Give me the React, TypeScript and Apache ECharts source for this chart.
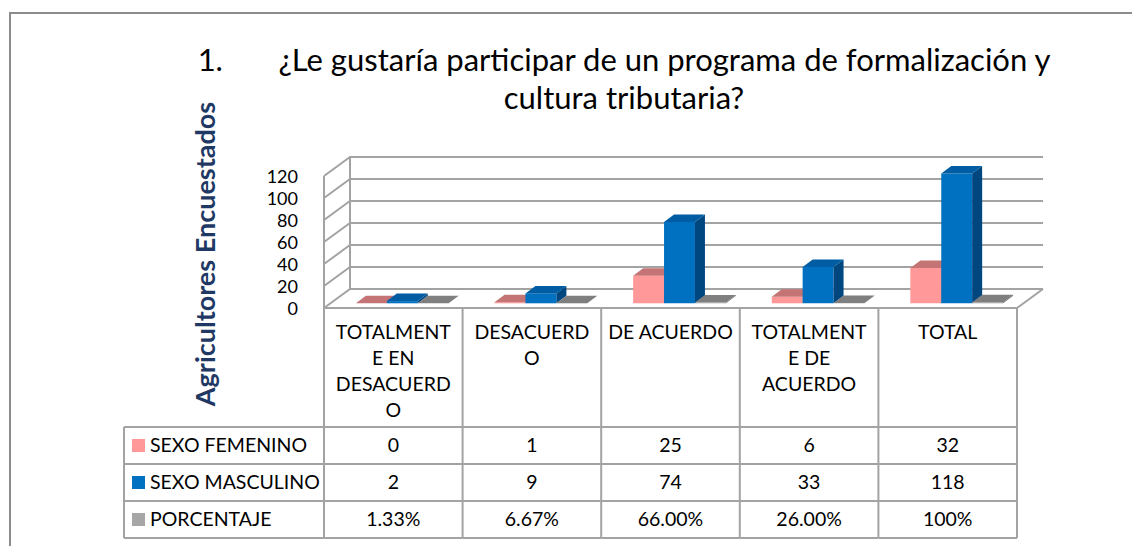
import React, { useEffect, useRef } from "react";
import * as echarts from "echarts";

// ---------- data ----------
const CATEGORIES = [
  "TOTALMENT\nE EN\nDESACUERD\nO",
  "DESACUERD\nO",
  "DE ACUERDO",
  "TOTALMENT\nE DE\nACUERDO",
  "TOTAL",
];
const SERIES_NAMES = ["SEXO FEMENINO", "SEXO MASCULINO", "PORCENTAJE"];
const SEXO_FEMENINO = [0, 1, 25, 6, 32];
const SEXO_MASCULINO = [2, 9, 74, 33, 118];
const PORCENTAJE = [0.0133, 0.0667, 0.66, 0.26, 1];
const PORCENTAJE_LABELS = ["1.33%", "6.67%", "66.00%", "26.00%", "100%"];
const Y_TICKS = [0, 20, 40, 60, 80, 100, 120];
const TITLE = "1.       ¿Le gustaría participar de un programa de formalización y\ncultura tributaria?";
const Y_TITLE = "Agricultores Encuestados";

// ---------- styles / layout ----------
const FONT = "Lato, 'Open Sans', sans-serif";
const GRID = { left: 324, top: 176, width: 693, height: 132 };
const DEPTH = { dx: 26, dy: -19 };
const BAR = { widthRatio: 0.223, dx0: 9, dy0: -4.7, dx: 10, dy: -7.5 };
const LINE = "#A3A3A3";
const TABLE = { headerBottom: 427, rowH: 37, legendLeft: 124, fontSize: 19.5 };
const COLORS = [
  { front: "#FF9999", top: "#C47474", side: "#B86A6A", legend: "#FF9999" },
  { front: "#0070C0", top: "#005DA3", side: "#00467F", legend: "#0070C0" },
  { front: "#A6A6A6", top: "#7F7F7F", side: "#666666", legend: "#A6A6A6" },
];

function barSeries(name: string, values: number[], sIdx: number) {
  const col = COLORS[sIdx];
  return {
    type: "custom",
    name,
    silent: true,
    data: values.map((v, i) => [i, v]),
    renderItem: (_p: any, api: any) => {
      const i = api.value(0);
      const v = api.value(1);
      const c = api.coord([i, 0]);
      const ct = api.coord([i, v]);
      const band = api.size([1, 0])[0];
      const w = band * BAR.widthRatio;
      const x0 = c[0] - 1.5 * w + sIdx * w + BAR.dx0;
      const yb = c[1] + BAR.dy0;
      const h = c[1] - ct[1];
      const yt = yb - h;
      const { dx, dy } = BAR;
      return {
        type: "group",
        children: [
          { type: "rect", shape: { x: x0, y: yt, width: w, height: Math.max(h, 0.01) }, style: { fill: col.front } },
          {
            type: "polygon",
            shape: { points: [[x0 + w, yb], [x0 + w + dx, yb + dy], [x0 + w + dx, yt + dy], [x0 + w, yt]] },
            style: { fill: col.side },
          },
          {
            type: "polygon",
            shape: { points: [[x0, yt], [x0 + w, yt], [x0 + w + dx, yt + dy], [x0 + dx, yt + dy]] },
            style: { fill: col.top },
          },
        ],
      };
    },
  };
}

const lineStyle = { stroke: LINE, lineWidth: 2, fill: "none" };

const wallSeries = {
  type: "custom",
  silent: true,
  z: 1,
  data: Y_TICKS.map((v) => [0, v]),
  renderItem: (_p: any, api: any) => {
    const v = api.value(1);
    const band = api.size([1, 0])[0];
    const c0 = api.coord([0, v]);
    const cN = api.coord([CATEGORIES.length - 1, v]);
    const xl = c0[0] - band / 2;
    const xr = cN[0] + band / 2;
    const y = c0[1];
    const { dx, dy } = DEPTH;
    const children: any[] = [
      { type: "polyline", shape: { points: [[xl, y], [xl + dx, y + dy], [xr + dx, y + dy]] }, style: lineStyle },
    ];
    if (v === 0) {
      const yTop = api.coord([0, Y_TICKS[Y_TICKS.length - 1]])[1];
      children.push(
        { type: "polyline", shape: { points: [[xl, y], [xr, y], [xr + dx, y + dy]] }, style: lineStyle },
        { type: "line", shape: { x1: xl, y1: y, x2: xl, y2: yTop }, style: lineStyle },
        { type: "line", shape: { x1: xl + dx, y1: y + dy, x2: xl + dx, y2: yTop + dy }, style: lineStyle }
      );
    }
    return { type: "group", children };
  },
};

const rowValues = [
  SEXO_FEMENINO.map(String),
  SEXO_MASCULINO.map(String),
  PORCENTAJE_LABELS,
];

const tableSeries = {
  type: "custom",
  silent: true,
  z: 3,
  data: CATEGORIES.map((_, i) => [i, 0]),
  renderItem: (_p: any, api: any) => {
    const i = api.value(0);
    const band = api.size([1, 0])[0];
    const c = api.coord([i, 0]);
    const left = c[0] - band / 2;
    const right = c[0] + band / 2;
    const top = c[1];
    const { headerBottom, rowH, legendLeft, fontSize } = TABLE;
    const bottom = headerBottom + rowH * 3;
    const txt = (text: string, x: number, y: number, align = "center", vAlign = "middle") => ({
      type: "text",
      style: {
        text, x, y, align, verticalAlign: vAlign, textAlign: align, textVerticalAlign: vAlign,
        fill: "#000", fontSize, fontFamily: FONT, lineHeight: 26,
      },
    });
    const children: any[] = [
      { type: "line", shape: { x1: right, y1: top, x2: right, y2: bottom }, style: lineStyle },
      txt(CATEGORIES[i], c[0], top + 10, "center", "top"),
    ];
    for (let r = 0; r <= 3; r++) {
      const y = headerBottom + r * rowH;
      children.push({ type: "line", shape: { x1: left, y1: y, x2: right, y2: y }, style: lineStyle });
    }
    for (let r = 0; r < 3; r++) {
      children.push(txt(rowValues[r][i], c[0], headerBottom + r * rowH + rowH / 2 - 1));
    }
    if (i === 0) {
      children.push(
        { type: "line", shape: { x1: left, y1: top, x2: left, y2: bottom }, style: lineStyle },
        { type: "line", shape: { x1: legendLeft, y1: headerBottom, x2: legendLeft, y2: bottom }, style: lineStyle }
      );
      for (let r = 0; r <= 3; r++) {
        const y = headerBottom + r * rowH;
        children.push({ type: "line", shape: { x1: legendLeft, y1: y, x2: left, y2: y }, style: lineStyle });
      }
      for (let r = 0; r < 3; r++) {
        const cy = headerBottom + r * rowH + rowH / 2;
        children.push(
          { type: "rect", shape: { x: legendLeft + 8, y: cy - 6.5, width: 13, height: 13 }, style: { fill: COLORS[r].legend } },
          txt(SERIES_NAMES[r], legendLeft + 26, cy - 1, "left", "middle")
        );
      }
    }
    return { type: "group", children };
  },
};

const option: any = {
  animation: false,
  backgroundColor: "#fff",
  title: {
    text: TITLE,
    left: 619,
    top: 35,
    textAlign: "center",
    textStyle: { fontSize: 31, fontFamily: FONT, fontWeight: "normal", color: "#000", lineHeight: 38 },
  },
  graphic: [
    {
      type: "rect",
      shape: { x: 10, y: 13, width: 1300, height: 700 },
      style: { fill: "none", stroke: "#8C8C8C", lineWidth: 2 },
      silent: true,
    },
    {
      type: "text",
      x: 204,
      y: 254,
      rotation: Math.PI / 2,
      style: {
        text: Y_TITLE, fill: "#1F3864", fontSize: 27, fontWeight: "bold", fontFamily: FONT,
        align: "center", verticalAlign: "middle", textAlign: "center", textVerticalAlign: "middle",
      },
      silent: true,
    },
  ],
  grid: { ...GRID },
  xAxis: { type: "category", data: CATEGORIES, show: false },
  yAxis: {
    type: "value",
    min: 0,
    max: 120,
    interval: 20,
    axisLabel: { fontSize: 18, lineHeight: 18, fontFamily: FONT, color: "#000", margin: 26 },
    axisLine: { show: false },
    axisTick: { show: false },
    splitLine: { show: false },
  },
  series: [
    wallSeries,
    barSeries(SERIES_NAMES[0], SEXO_FEMENINO, 0),
    barSeries(SERIES_NAMES[1], SEXO_MASCULINO, 1),
    barSeries(SERIES_NAMES[2], PORCENTAJE, 2),
    tableSeries,
  ],
};

export default function App() {
  const ref = useRef<HTMLDivElement>(null);
  useEffect(() => {
    const chart = echarts.init(ref.current!, null, { renderer: "svg" });
    chart.setOption(option);
    return () => chart.dispose();
  }, []);
  return (
    <div
      ref={ref}
      style={{ position: "fixed", left: 0, top: 0, width: 1132, height: 546, background: "#fff" }}
    />
  );
}
